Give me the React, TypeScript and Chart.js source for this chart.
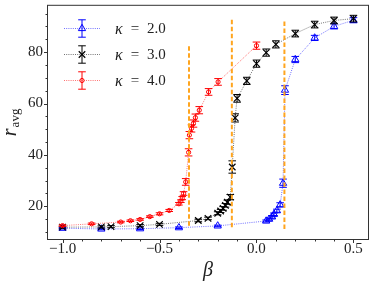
import React, { useEffect, useRef } from 'react';
import { Chart, registerables } from 'chart.js';

Chart.register(...registerables);

const W = 374;
const H = 287;
const FONT = "'Liberation Serif', 'DejaVu Serif', serif";

// ---- data ----
const betaK2 = [-1.0, -0.8, -0.6, -0.4, -0.2, 0.05, 0.065, 0.08, 0.09, 0.105, 0.122, 0.137, 0.147, 0.2, 0.3, 0.4, 0.5];
const ravgK2 = [11.5, 11.2, 11.3, 11.7, 12.4, 14.3, 15.0, 15.9, 16.9, 18.3, 20.6, 29.0, 65.2, 77.1, 85.5, 90.0, 92.4];
const errK2 = [0.3, 0.3, 0.3, 0.3, 0.3, 0.4, 0.4, 0.5, 0.5, 0.6, 0.8, 1.6, 1.7, 1.2, 1.0, 1.0, 1.0];

const betaK3 = [-1.0, -0.8, -0.75, -0.6, -0.5, -0.3, -0.25, -0.2, -0.185, -0.172, -0.16, -0.15, -0.135, -0.125, -0.11, -0.1, -0.05, 0.0, 0.05, 0.1, 0.2, 0.3, 0.4, 0.5];
const ravgK3 = [11.9, 12.0, 12.1, 12.5, 13.0, 14.5, 15.3, 17.3, 18.2, 19.2, 20.4, 21.6, 23.6, 35.3, 54.4, 62.0, 68.8, 75.5, 79.8, 83.0, 87.2, 90.7, 92.3, 93.0];
const errK3 = [0.4, 0.4, 0.4, 0.4, 0.4, 0.5, 0.5, 0.6, 0.6, 0.7, 0.7, 0.8, 1.0, 2.4, 1.6, 1.5, 1.4, 1.4, 1.4, 1.4, 1.3, 1.3, 1.3, 1.3];

const betaK4 = [-1.0, -0.85, -0.7, -0.65, -0.6, -0.55, -0.5, -0.45, -0.4, -0.39, -0.383, -0.376, -0.365, -0.35, -0.346, -0.335, -0.325, -0.315, -0.295, -0.247, -0.198, 0.0];
const ravgK4 = [12.5, 13.2, 13.9, 14.4, 14.9, 16.0, 17.1, 18.4, 21.0, 22.0, 23.2, 25.0, 29.5, 41.0, 47.7, 50.3, 52.2, 54.5, 57.4, 64.5, 68.4, 82.5];
const errK4 = [0.3, 0.3, 0.3, 0.3, 0.3, 0.3, 0.4, 0.4, 0.5, 0.5, 0.6, 0.7, 1.3, 1.4, 1.4, 1.4, 1.4, 1.4, 1.4, 1.3, 1.3, 1.4];

const kappaLabels = ['2.0', '3.0', '4.0'];
const criticalBeta = [0.144, -0.127, -0.348]; // per kappa 2,3,4

const xTicks = [-1.0, -0.5, 0.0, 0.5];
const yTicks = [20, 40, 60, 80];
const xRange = [-1.075, 0.575];
const yRange = [7.3, 98];

// ---- styles ----
const series = [
  { beta: betaK2, r: ravgK2, err: errK2, color: '#0000ff', line: 'rgba(0,0,255,0.7)', marker: 'triangle', radius: 4.2, lw: 0.8, order: 3 },
  { beta: betaK3, r: ravgK3, err: errK3, color: '#000000', line: 'rgba(0,0,0,0.55)', marker: 'crossRot', radius: 4.6, lw: 1.0, order: 2 },
  { beta: betaK4, r: ravgK4, err: errK4, color: '#ff0000', line: 'rgba(255,0,0,0.7)', marker: 'circle', radius: 2.1, lw: 0.8, order: 1 },
];
const ORANGE = '#ffa51f';

function fmtX(v: number) {
  const s = Math.abs(v).toFixed(1);
  return v < -1e-9 ? '\u2212' + s : s;
}

function drawMarker(ctx: CanvasRenderingContext2D, kind: string, x: number, y: number, r: number, color: string, lw: number) {
  ctx.save();
  ctx.strokeStyle = color;
  ctx.lineWidth = lw;
  ctx.beginPath();
  if (kind === 'triangle') {
    ctx.moveTo(x, y - r);
    ctx.lineTo(x + 0.866 * r, y + 0.5 * r);
    ctx.lineTo(x - 0.866 * r, y + 0.5 * r);
    ctx.closePath();
  } else if (kind === 'crossRot') {
    const d = 0.707 * r;
    ctx.moveTo(x - d, y - d);
    ctx.lineTo(x + d, y + d);
    ctx.moveTo(x - d, y + d);
    ctx.lineTo(x + d, y - d);
  } else {
    ctx.arc(x, y, r, 0, Math.PI * 2);
  }
  ctx.stroke();
  ctx.restore();
}

const decor = {
  id: 'decor',
  afterDatasetDraw(chart: any, args: any) {
    const s = series[args.index];
    if (!s) return;
    const { ctx, scales } = chart;
    const x = scales.x;
    const y = scales.y;
    ctx.save();
    ctx.strokeStyle = s.color;
    ctx.lineWidth = 1;
    const cap = 3.8;
    ctx.beginPath();
    for (let i = 0; i < s.beta.length; i++) {
      const px = x.getPixelForValue(s.beta[i]);
      const y1 = y.getPixelForValue(s.r[i] - s.err[i]);
      const y2 = y.getPixelForValue(s.r[i] + s.err[i]);
      ctx.moveTo(px, y1);
      ctx.lineTo(px, y2);
      ctx.moveTo(px - cap, y1);
      ctx.lineTo(px + cap, y1);
      ctx.moveTo(px - cap, y2);
      ctx.lineTo(px + cap, y2);
    }
    ctx.stroke();
    ctx.restore();
  },
  afterDraw(chart: any) {
    const { ctx, chartArea: a, scales } = chart;
    const x = scales.x;
    const y = scales.y;
    ctx.save();
    // frame
    ctx.strokeStyle = '#333';
    ctx.lineWidth = 1;
    ctx.strokeRect(a.left - 0.5, a.top - 0.5, a.right - a.left + 1, a.bottom - a.top + 1);
    // ticks
    ctx.beginPath();
    for (const v of yTicks) {
      const py = Math.round(y.getPixelForValue(v)) + 0.5;
      ctx.moveTo(a.left - 0.5, py);
      ctx.lineTo(a.left - 4, py);
    }
    for (let k = 2; k <= 19; k++) {
      const v = k * 5;
      if (v % 20 === 0) continue;
      const py = Math.round(y.getPixelForValue(v)) + 0.5;
      ctx.moveTo(a.left - 0.5, py);
      ctx.lineTo(a.left - 2.5, py);
    }
    for (const v of xTicks) {
      const px = Math.round(x.getPixelForValue(v)) + 0.5;
      ctx.moveTo(px, a.bottom + 0.5);
      ctx.lineTo(px, a.bottom + 4);
    }
    for (let k = -10; k <= 5; k++) {
      if (k % 5 === 0) continue;
      const px = Math.round(x.getPixelForValue(k / 10)) + 0.5;
      ctx.moveTo(px, a.bottom + 0.5);
      ctx.lineTo(px, a.bottom + 2.5);
    }
    ctx.stroke();

    // x title
    ctx.fillStyle = '#222';
    ctx.font = `italic 20px ${FONT}`;
    ctx.textAlign = 'center';
    ctx.textBaseline = 'middle';
    ctx.fillText('\u03b2', (a.left + a.right) / 2, 271);

    // y title r_avg (rotated)
    ctx.save();
    ctx.translate(15.5, (a.top + a.bottom) / 2);
    ctx.rotate(-Math.PI / 2);
    ctx.textBaseline = 'alphabetic';
    ctx.textAlign = 'left';
    ctx.font = `italic 20px ${FONT}`;
    const wr = ctx.measureText('r').width;
    ctx.font = `13px ${FONT}`;
    const ws = ctx.measureText('avg').width;
    const start = -(wr + ws + 1) / 2;
    ctx.font = `italic 20px ${FONT}`;
    ctx.fillText('r', start, 0);
    ctx.font = `13px ${FONT}`;
    ctx.fillText('avg', start + wr + 1, 3.5);
    ctx.restore();

    // legend
    const rows = [28.5, 54.5, 80.5];
    series.forEach((s, i) => {
      const ry = rows[i];
      ctx.save();
      ctx.strokeStyle = s.line;
      ctx.lineWidth = s.lw;
      ctx.setLineDash([1, 1.2]);
      ctx.beginPath();
      ctx.moveTo(64, ry);
      ctx.lineTo(100, ry);
      ctx.stroke();
      ctx.setLineDash([]);
      ctx.strokeStyle = s.color;
      ctx.lineWidth = 1;
      ctx.beginPath();
      ctx.moveTo(82, ry - 8.7);
      ctx.lineTo(82, ry + 8.7);
      ctx.moveTo(78.2, ry - 8.7);
      ctx.lineTo(85.8, ry - 8.7);
      ctx.moveTo(78.2, ry + 8.7);
      ctx.lineTo(85.8, ry + 8.7);
      ctx.stroke();
      ctx.restore();
      drawMarker(ctx, s.marker, 82, ry, s.radius, s.color, s.marker === 'crossRot' ? 1.2 : 1);

      ctx.fillStyle = '#222';
      ctx.textBaseline = 'middle';
      ctx.textAlign = 'left';
      ctx.font = `italic 16px ${FONT}`;
      ctx.fillText('\u03ba', 115, ry + 1);
      ctx.font = `15px ${FONT}`;
      ctx.textAlign = 'center';
      ctx.fillText('=', 135, ry + 1);
      ctx.textAlign = 'left';
      ctx.fillText(kappaLabels[i], 147, ry + 1);
    });
    ctx.restore();
  },
};

export default function App() {
  const ref = useRef<HTMLCanvasElement>(null);
  useEffect(() => {
    document.body.style.margin = '0';
    const datasets: any[] = series.map((s, i) => ({
      label: 'kappa = ' + kappaLabels[i],
      data: s.beta.map((b, j) => ({ x: b, y: s.r[j] })),
      showLine: true,
      borderColor: s.line,
      borderWidth: s.lw,
      borderDash: [1, 1.2],
      pointStyle: s.marker,
      pointRadius: s.radius,
      pointBorderColor: s.color,
      pointBackgroundColor: 'rgba(0,0,0,0)',
      pointBorderWidth: s.marker === 'crossRot' ? 1.2 : 1,
      order: s.order,
    }));
    series.forEach((s, i) => {
      datasets.push({
        label: 'critical ' + kappaLabels[i],
        data: [
          { x: criticalBeta[i], y: Math.min(...s.r) },
          { x: criticalBeta[i], y: Math.max(...s.r) },
        ],
        showLine: true,
        borderColor: ORANGE,
        borderWidth: 2,
        borderDash: [4.5, 2.5],
        pointRadius: 0,
        order: 0,
      });
    });
    const chart = new Chart(ref.current as HTMLCanvasElement, {
      type: 'scatter',
      data: { datasets },
      plugins: [decor],
      options: {
        animation: false,
        responsive: false,
        events: [],
        layout: { padding: { top: 5, right: 6, left: 0, bottom: 0 } },
        plugins: { legend: { display: false }, tooltip: { enabled: false } },
        scales: {
          x: {
            type: 'linear',
            min: xRange[0],
            max: xRange[1],
            grid: { display: false, drawTicks: false },
            border: { display: false },
            ticks: {
              font: { family: FONT, size: 15 },
              color: '#222',
              padding: 1,
              maxRotation: 0,
              callback: (v: any) => fmtX(Number(v)),
            },
            afterBuildTicks: (s: any) => {
              s.ticks = xTicks.map((v) => ({ value: v }));
            },
            afterFit: (s: any) => {
              s.height = 48;
              s.paddingLeft = 0;
              s.paddingRight = 0;
            },
          },
          y: {
            type: 'linear',
            min: yRange[0],
            max: yRange[1],
            grid: { display: false, drawTicks: false },
            border: { display: false },
            ticks: {
              font: { family: FONT, size: 15 },
              color: '#222',
              padding: 5,
              callback: (v: any) => String(v),
            },
            afterBuildTicks: (s: any) => {
              s.ticks = yTicks.map((v) => ({ value: v }));
            },
            afterFit: (s: any) => {
              s.width = 48;
              s.paddingTop = 0;
              s.paddingBottom = 0;
            },
          },
        },
      } as any,
    });
    return () => chart.destroy();
  }, []);
  return (
    <div style={{ width: W, height: H }}>
      <canvas ref={ref} width={W} height={H} style={{ display: 'block' }} />
    </div>
  );
}
